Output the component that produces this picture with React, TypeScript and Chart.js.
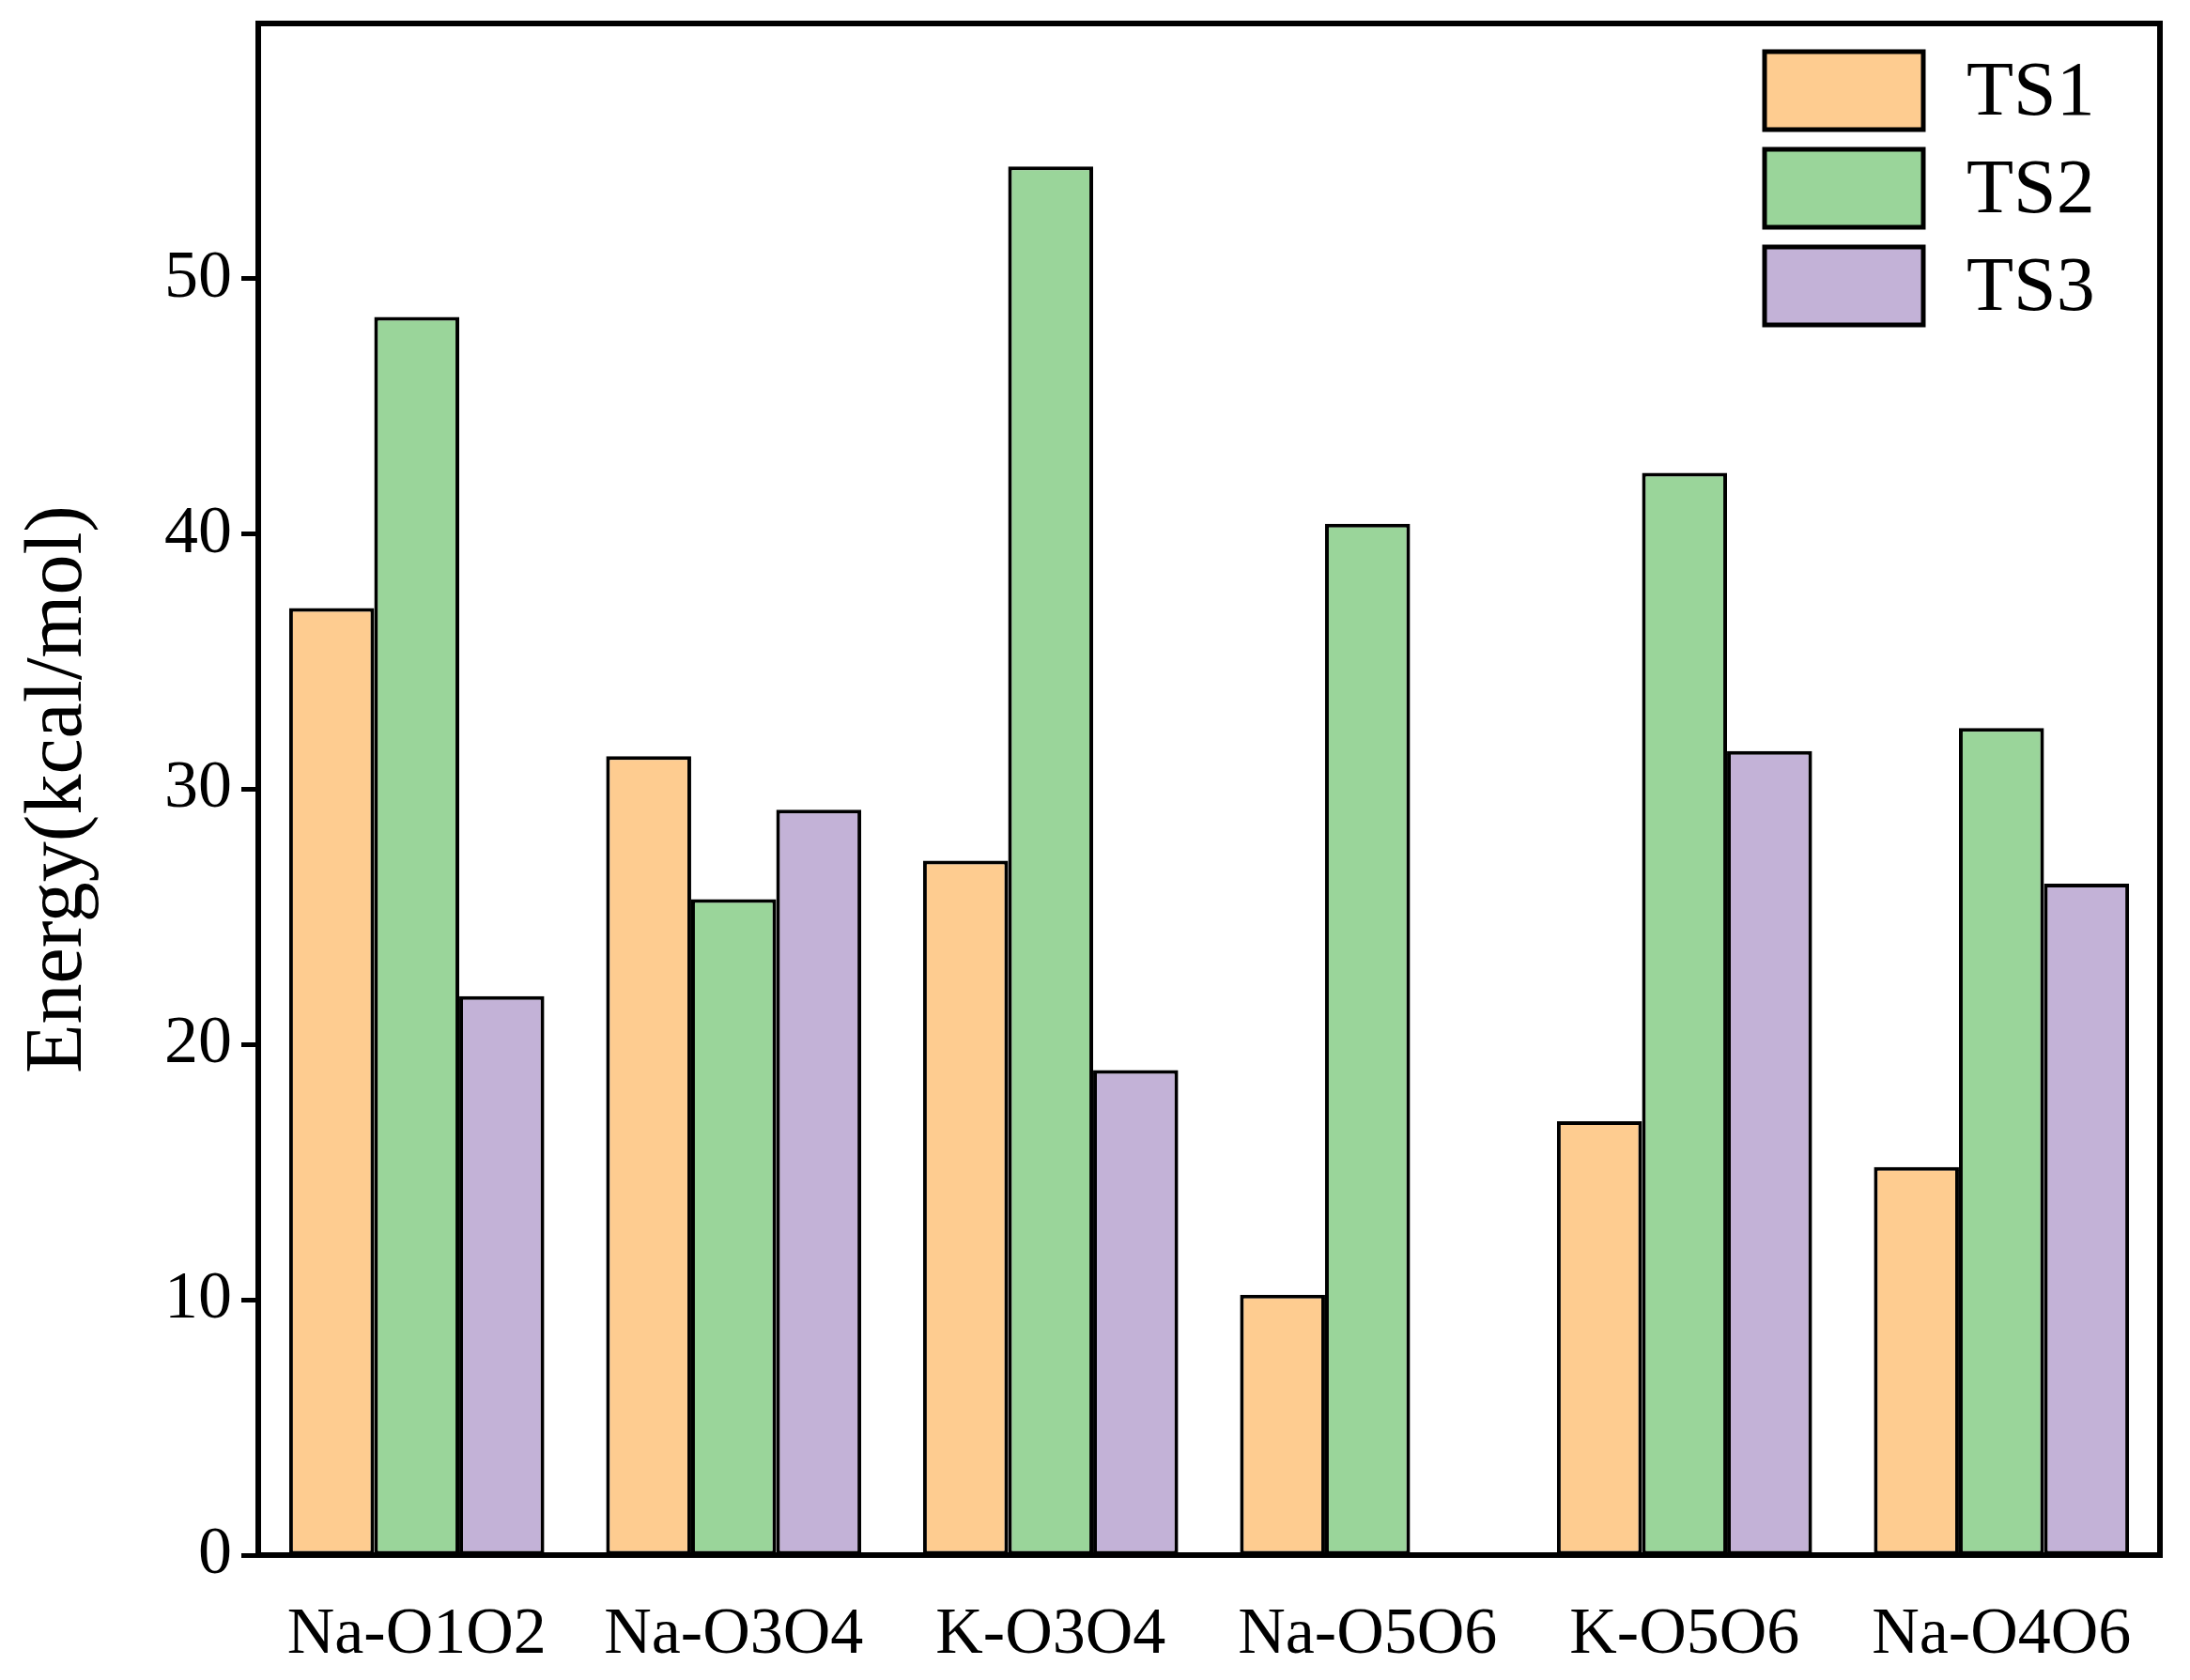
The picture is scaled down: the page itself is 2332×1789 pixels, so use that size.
import { useEffect, useRef } from 'react'
import { Chart, registerables } from 'chart.js'

Chart.register(...registerables)

const categories = ['Na-O1O2', 'Na-O3O4', 'K-O3O4', 'Na-O5O6', 'K-O5O6', 'Na-O4O6']
const seriesNames = ['TS1', 'TS2', 'TS3']
const ts1 = [37.1, 31.3, 27.2, 10.2, 17.0, 15.2]
const ts2 = [48.5, 25.7, 54.4, 40.4, 42.4, 32.4]
const ts3 = [21.9, 29.2, 19.0, null, 31.5, 26.3]
const yTicks = [0, 10, 20, 30, 40, 50]

const colors = ['#FECC90', '#9AD59A', '#C3B2D7']
const serif = '"Liberation Serif", "Times New Roman", serif'

// frame round the plot area + boxed legend in the top right corner
const framePlugin = {
  id: 'frame',
  afterDraw(chart: Chart) {
    const { ctx, chartArea: a } = chart
    ctx.save()
    ctx.strokeStyle = '#000'
    ctx.lineWidth = 6
    ctx.strokeRect(a.left, a.top, a.right - a.left, a.bottom - a.top)

    chart.data.datasets.forEach((ds, i) => {
      const y = 55 + i * 104
      ctx.fillStyle = ds.backgroundColor as string
      ctx.fillRect(1879, y, 169, 83)
      ctx.lineWidth = 5
      ctx.strokeRect(1879, y, 169, 83)
      ctx.fillStyle = '#000'
      ctx.font = `82px ${serif}`
      ctx.textBaseline = 'middle'
      ctx.textAlign = 'left'
      ctx.fillText(ds.label ?? '', 2094, y + 45)
    })
    ctx.restore()
  },
}

export default function App() {
  const canvasRef = useRef<HTMLCanvasElement>(null)
  const chartRef = useRef<Chart | null>(null)

  useEffect(() => {
    if (!canvasRef.current) return
    chartRef.current?.destroy()
    chartRef.current = new Chart(canvasRef.current, {
      type: 'bar',
      data: {
        labels: categories,
        datasets: [ts1, ts2, ts3].map((d, i) => ({
          label: seriesNames[i],
          data: d,
          backgroundColor: colors[i],
          borderColor: '#000',
          borderWidth: 4,
          borderSkipped: false,
          categoryPercentage: 0.805,
          barPercentage: 1,
        })),
      },
      options: {
        responsive: true, maintainAspectRatio: false,
        animation: false,
        layout: { padding: { left: 0, top: 25, right: 32, bottom: 0 } },
        plugins: { legend: { display: false }, tooltip: { enabled: false } },
        scales: {
          x: {
            grid: { display: false, drawTicks: false },
            border: { display: true, color: '#000', width: 6 },
            ticks: { color: '#000', font: { family: serif, size: 70 }, padding: 44, maxRotation: 0 },
            afterFit: (s: any) => { s.height = 133; s.paddingLeft = 0; s.paddingRight = 0 },
          },
          y: {
            min: 0, max: 60,
            grid: { display: true, drawOnChartArea: false, drawTicks: true, tickLength: 18, tickWidth: 5, tickColor: '#000' },
            border: { display: true, color: '#000', width: 6 },
            ticks: { color: '#000', font: { family: serif, size: 72 }, padding: 10, stepSize: 10 },
            afterBuildTicks: (s: any) => { s.ticks = yTicks.map(v => ({ value: v })) },
            title: { display: true, text: 'Energy(kcal/mol)', color: '#000', font: { family: serif, size: 86 }, padding: { top: 12, bottom: 0 } },
            afterFit: (s: any) => { s.width = 275; s.paddingTop = 0; s.paddingBottom = 0 },
          },
        },
      },
      plugins: [framePlugin],
    })
    return () => chartRef.current?.destroy()
  }, [])

  return (
    <div style={{ position: 'fixed', left: 0, top: 0, width: 2332, height: 1789, background: '#fff' }}>
      <canvas ref={canvasRef} />
    </div>
  )
}
